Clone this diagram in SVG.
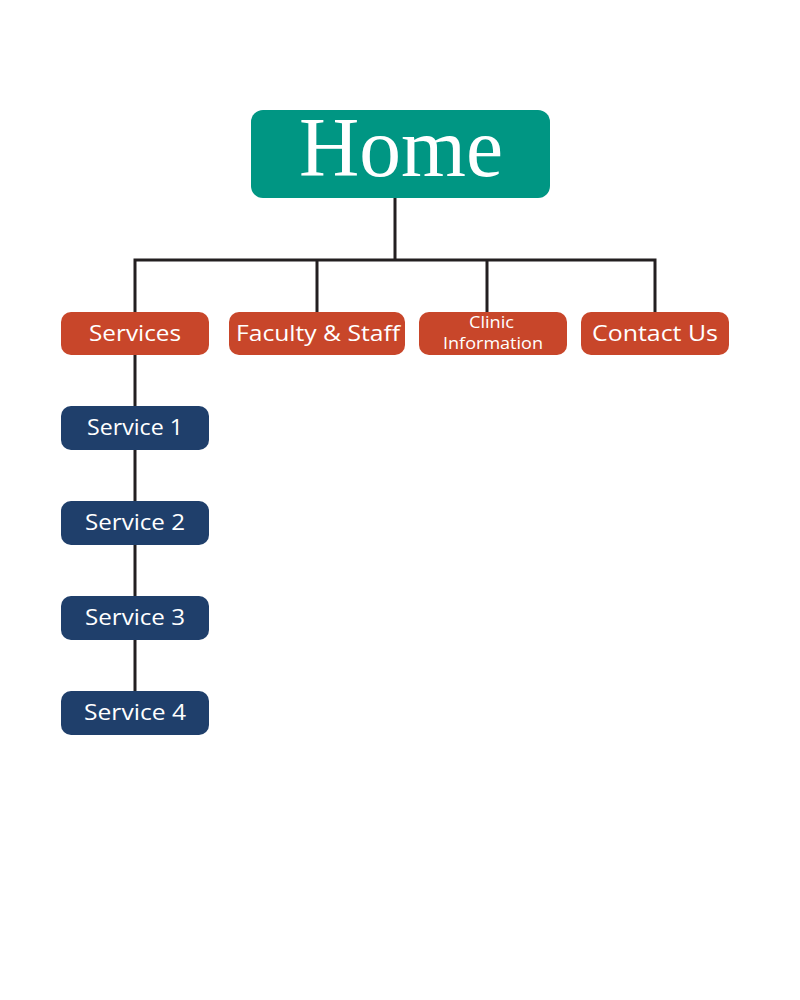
<svg xmlns="http://www.w3.org/2000/svg" width="800" height="1000" viewBox="0 0 800 1000">
<style>
.conn{stroke:#231f20;stroke-width:3;fill:none;stroke-linecap:square}
.top{fill:#009683}
.mid{fill:#c8462a}
.sub{fill:#1f3f6b}
.lbl{font-family:"Open Sans","Liberation Sans",sans-serif;fill:#ffffff;text-anchor:middle;font-size:21.5px}
.small{font-size:16px}
.home{font-family:"Liberation Serif","DejaVu Serif",serif;fill:#ffffff;text-anchor:middle;font-size:84px}
</style>
<rect width="800" height="1000" fill="#ffffff"/>
<g id="connectors">
<path class="conn" d="M395 198V260M135 260H655M135 260V312M317 260V312M487 260V312M655 260V312"/>
<path class="conn" d="M135 355V406M135 450V501M135 545V596M135 640V691"/>
</g>
<g id="home"><rect class="top" x="251" y="110" width="299" height="88" rx="12"/><text class="home" x="401" y="176" textLength="204" lengthAdjust="spacingAndGlyphs">Home</text></g>
<g id="services"><rect class="mid" x="61" y="312" width="148" height="43" rx="10"/><text class="lbl" x="135" y="341" textLength="92" lengthAdjust="spacingAndGlyphs">Services</text></g>
<g id="faculty"><rect class="mid" x="229" y="312" width="176" height="43" rx="10"/><text class="lbl" x="318" y="341" textLength="164" lengthAdjust="spacingAndGlyphs">Faculty &amp; Staff</text></g>
<g id="clinic"><rect class="mid" x="419" y="312" width="148" height="43" rx="10"/><text class="lbl small" x="491.5" y="328" textLength="45" lengthAdjust="spacingAndGlyphs">Clinic</text><text class="lbl small" x="493" y="349" textLength="100" lengthAdjust="spacingAndGlyphs">Information</text></g>
<g id="contact"><rect class="mid" x="581" y="312" width="148" height="43" rx="10"/><text class="lbl" x="655" y="341" textLength="126" lengthAdjust="spacingAndGlyphs">Contact Us</text></g>
<g id="service1"><rect class="sub" x="61" y="406" width="148" height="44" rx="10"/><text class="lbl" x="135" y="435" textLength="96" lengthAdjust="spacingAndGlyphs">Service 1</text></g>
<g id="service2"><rect class="sub" x="61" y="501" width="148" height="44" rx="10"/><text class="lbl" x="135" y="530" textLength="100" lengthAdjust="spacingAndGlyphs">Service 2</text></g>
<g id="service3"><rect class="sub" x="61" y="596" width="148" height="44" rx="10"/><text class="lbl" x="135" y="625" textLength="100" lengthAdjust="spacingAndGlyphs">Service 3</text></g>
<g id="service4"><rect class="sub" x="61" y="691" width="148" height="44" rx="10"/><text class="lbl" x="135" y="720" textLength="102" lengthAdjust="spacingAndGlyphs">Service 4</text></g>
</svg>
